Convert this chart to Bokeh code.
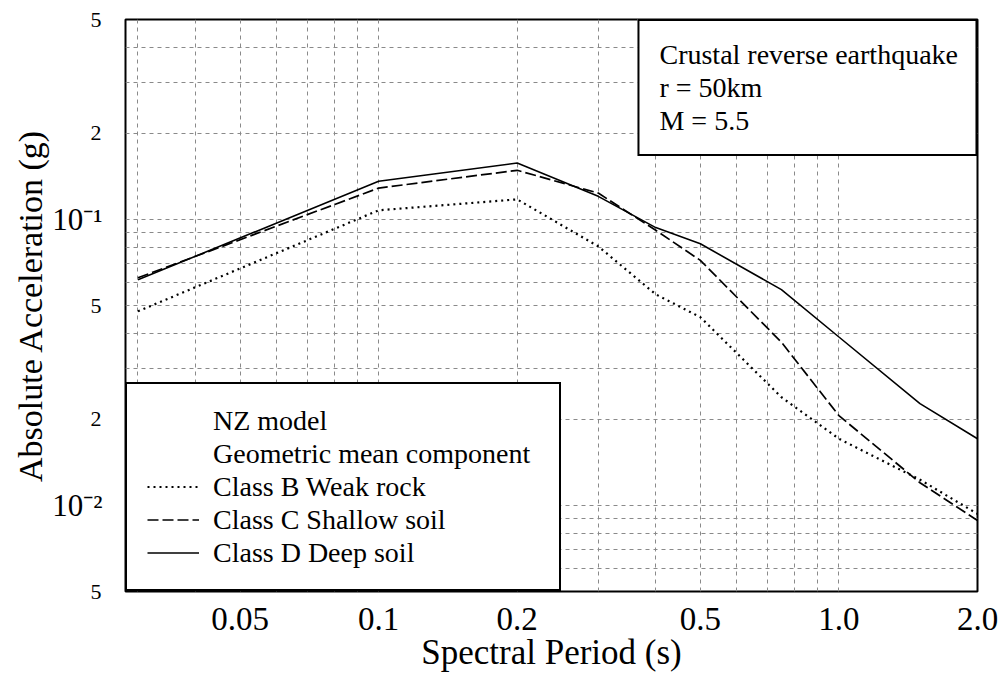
from bokeh.plotting import figure
from bokeh.models import Range1d, FixedTicker, Legend, LegendItem, LogAxis
from bokeh.core.properties import value
from bokeh.embed import file_html
from bokeh.resources import INLINE

# ---- data ----
periods = [0.03, 0.1, 0.2, 0.3, 0.4, 0.5, 0.75, 1.0, 1.5, 2.0]
class_b_weak_rock = [0.0477, 0.1076, 0.1175, 0.0805, 0.0547, 0.0455, 0.0239, 0.0171, 0.0123, 0.00934]
class_c_shallow_soil = [0.0625, 0.1287, 0.1485, 0.1236, 0.0916, 0.0719, 0.0372, 0.0206, 0.0120, 0.00886]
class_d_deep_soil = [0.0615, 0.1359, 0.1574, 0.1204, 0.0936, 0.0822, 0.0568, 0.0388, 0.0227, 0.0171]

x_tick_values = [0.05, 0.1, 0.2, 0.5, 1.0, 2.0]
x_tick_labels = ["0.05", "0.1", "0.2", "0.5", "1.0", "2.0"]
x_minor_values = [0.03, 0.04, 0.06, 0.07, 0.08, 0.09, 0.3, 0.4, 0.6, 0.7, 0.8, 0.9]

y_tick_values = [0.005, 0.01, 0.02, 0.05, 0.1, 0.2, 0.5]
y_minor_values = [0.006, 0.007, 0.008, 0.009, 0.03, 0.04, 0.06, 0.07, 0.08, 0.09, 0.3, 0.4]
y_mantissa_ticks = [0.005, 0.02, 0.05, 0.2, 0.5]
y_mantissa_labels = ["5", "2", "5", "2", "5"]
y_power_ticks = [0.1, 0.01]
y_power_labels = ["10\u207b\u00b9", "10\u207b\u00b2"]

series_labels = ["Class B Weak rock", "Class C Shallow soil", "Class D Deep soil"]
legend_header = ["NZ model", "Geometric mean component"]
info_lines = ["Crustal reverse earthquake", "r = 50km", "M = 5.5"]

x_start, x_end = 0.02819, 2.0
y_start, y_end = 0.005, 0.5

FONT = "Liberation Serif"
GRID = "#8a8a8a"

p = figure(width=1004, height=678, x_axis_type="log", y_axis_type="log",
           x_range=Range1d(x_start, x_end), y_range=Range1d(y_start, y_end),
           output_backend="svg", toolbar_location=None,
           min_border_left=125, min_border_right=27, min_border_top=19, min_border_bottom=87)

p.background_fill_color = "white"
p.border_fill_color = "white"
p.outline_line_color = "black"
p.outline_line_width = 2

xt = FixedTicker(ticks=x_tick_values, minor_ticks=x_minor_values)
yt = FixedTicker(ticks=y_tick_values, minor_ticks=y_minor_values)
p.xgrid.ticker = xt
p.ygrid.ticker = yt

for g in (p.xgrid, p.ygrid):
    g.grid_line_color = GRID
    g.grid_line_dash = "4 4"
    g.grid_line_width = 1
    g.minor_grid_line_color = GRID
    g.minor_grid_line_dash = "4 4"
    g.minor_grid_line_width = 1


def style_axis(ax, title_size="35px"):
    ax.axis_line_color = None
    ax.major_tick_line_color = None
    ax.minor_tick_line_color = None
    ax.major_label_text_font = FONT
    ax.major_label_text_color = "black"
    ax.axis_label_text_font = FONT
    ax.axis_label_text_font_style = "normal"
    ax.axis_label_text_color = "black"
    ax.axis_label_text_font_size = title_size


# x axis
xa = p.xaxis[0]
style_axis(xa)
xa.ticker = xt
xa.major_label_overrides = dict(zip(x_tick_values, x_tick_labels))
xa.major_label_text_font_size = "33px"
xa.major_label_standoff = 10
xa.axis_label = "Spectral Period (s)"
xa.axis_label_standoff = 0

# inner y axis: mantissa labels 5 / 2
ya = p.yaxis[0]
style_axis(ya)
ya.ticker = FixedTicker(ticks=y_mantissa_ticks)
ya.major_label_overrides = dict(zip(y_mantissa_ticks, y_mantissa_labels))
ya.major_label_text_font_size = "22px"
ya.major_label_standoff = 18

# outer y axis: powers of ten, plus the title
yb = LogAxis(ticker=FixedTicker(ticks=y_power_ticks))
style_axis(yb, "34px")
yb.major_label_overrides = dict(zip(y_power_ticks, y_power_labels))
yb.major_label_text_font_size = "31px"
yb.major_label_standoff = -21
yb.axis_label = "Absolute Acceleration (g)"
yb.axis_label_standoff = 0
p.add_layout(yb, "left")

# curves
r_b = p.line(periods, class_b_weak_rock, line_color="black", line_width=2.2, line_dash="2 4")
r_c = p.line(periods, class_c_shallow_soil, line_color="black", line_width=1.7, line_dash="11 4")
r_d = p.line(periods, class_d_deep_soil, line_color="black", line_width=1.6)

# legend (bottom-left) with two header lines
items = []
for h in legend_header:
    dummy = p.line(x=[], y=[], line_color=None, line_alpha=0)
    items.append(LegendItem(label=value(h), renderers=[dummy]))
for lab, r in zip(series_labels, [r_b, r_c, r_d]):
    items.append(LegendItem(label=value(lab), renderers=[r]))

leg = Legend(items=items, location="bottom_left", margin=0, padding=20, spacing=0,
             glyph_width=52, glyph_height=33, label_height=33, label_standoff=14,
             label_width=326,
             label_text_font=FONT, label_text_font_size="28px", label_text_color="black",
             border_line_color="black", border_line_width=2, border_line_alpha=1,
             background_fill_color="white", background_fill_alpha=1)
p.add_layout(leg)

# info box (top-right)
info_items = []
for t in info_lines:
    dummy = p.line(x=[], y=[], line_color=None, line_alpha=0)
    info_items.append(LegendItem(label=value(t), renderers=[dummy]))
info = Legend(items=info_items, location="top_right", margin=0, padding=17, spacing=0,
              glyph_width=0, glyph_height=33, label_height=33, label_standoff=3,
              label_text_font=FONT, label_text_font_size="28px", label_text_color="black",
              border_line_color="black", border_line_width=2, border_line_alpha=1,
              background_fill_color="white", background_fill_alpha=1)
p.add_layout(info)

open("out.html", "w").write(file_html(p, INLINE))
